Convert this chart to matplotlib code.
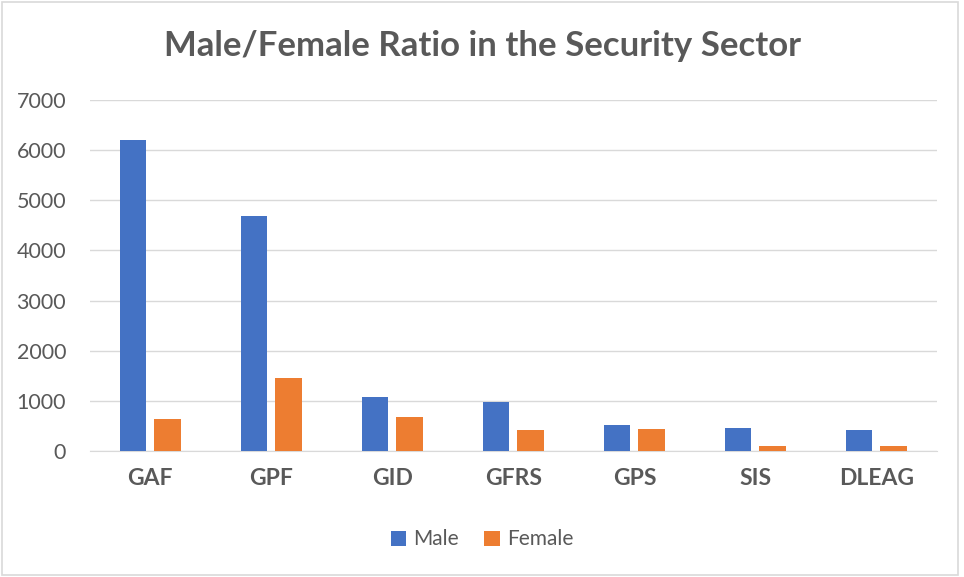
import numpy as np
import matplotlib.pyplot as plt
from matplotlib.patches import Rectangle

categories = ["GAF", "GPF", "GID", "GFRS", "GPS", "SIS", "DLEAG"]
male = [6190, 4680, 1080, 980, 520, 460, 415]
female = [650, 1450, 690, 415, 440, 100, 100]
yticks = [0, 1000, 2000, 3000, 4000, 5000, 6000, 7000]

plt.rcParams['font.family'] = ['Lato', 'DejaVu Sans']
TXT = "#595959"

fig = plt.figure(figsize=(9.64, 5.77), dpi=100)
ax = fig.add_axes([0.093, 0.218, 0.879, 0.609])

x = np.arange(len(categories))
w = 0.22
ax.bar(x - 0.143, male, w, color="#4472c4", label="Male", zorder=3)
ax.bar(x + 0.143, female, w, color="#ed7d31", label="Female", zorder=3)

ax.set_xlim(-0.5, len(categories) - 0.5)
ax.set_ylim(0, 7000)
ax.set_yticks(yticks)
ax.set_yticklabels([str(v) for v in yticks], color=TXT, fontsize=15.5)
ax.set_xticks(x)
ax.set_xticklabels(categories, color=TXT, fontsize=16.5, fontweight="bold")
ax.tick_params(axis="both", length=0)
ax.tick_params(axis="y", pad=17)
ax.tick_params(axis="x", pad=12)
ax.grid(axis="y", color="#d9d9d9", linewidth=1, zorder=0)
for s in ["top", "right", "left"]:
    ax.spines[s].set_visible(False)
ax.spines["bottom"].set_color("#d9d9d9")

fig.suptitle("Male/Female Ratio in the Security Sector", x=0.5, y=0.948,
             fontsize=25, fontweight="bold", color=TXT)

leg = fig.legend(loc="center", bbox_to_anchor=(0.5, 0.065), ncol=2, frameon=False,
                 fontsize=15, handlelength=0.75, handleheight=0.75, columnspacing=1.2,
                 handletextpad=0.35)
for t in leg.get_texts():
    t.set_color(TXT)

fig.patches.append(Rectangle((0.002, 0.003), 0.992, 0.994, transform=fig.transFigure,
                             fill=False, edgecolor="#d9d9d9", linewidth=1.2))

fig.savefig("out.png", dpi=100, facecolor="white")
